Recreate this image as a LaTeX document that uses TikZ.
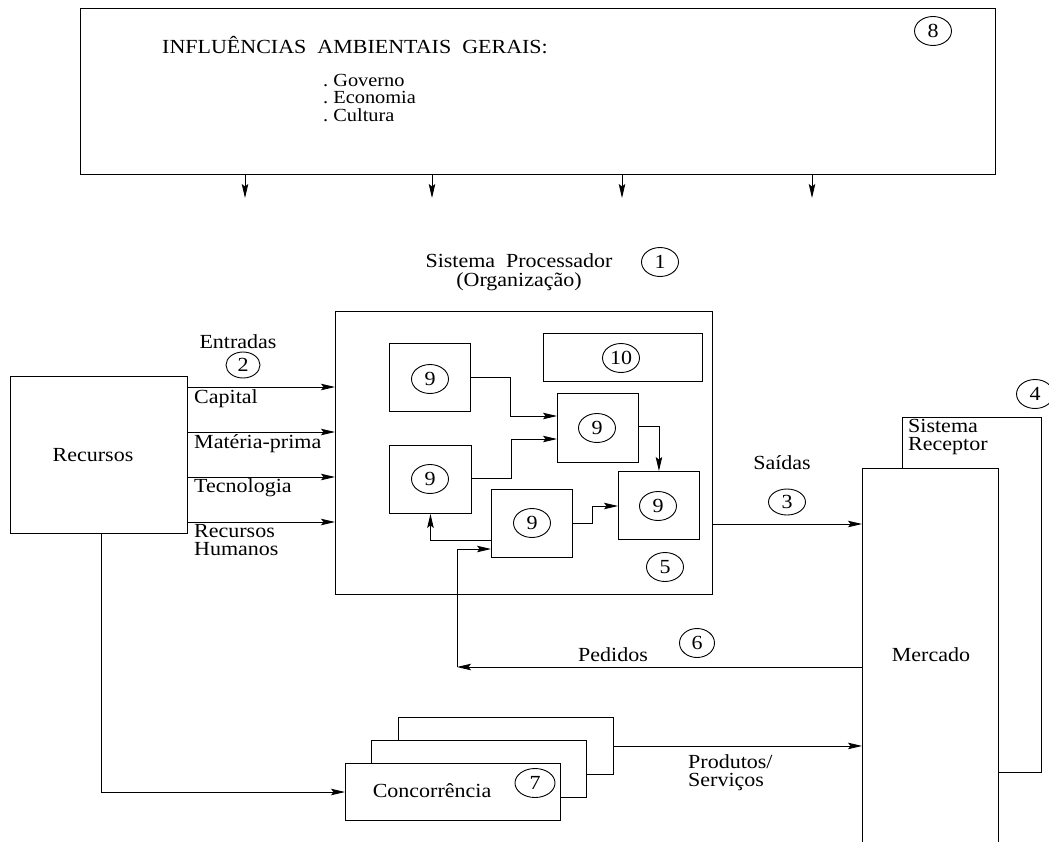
\documentclass[tikz,border=0pt]{standalone}
\usepackage{fontspec}
\setmainfont{Liberation Serif}[FakeStretch=1.1]
\usetikzlibrary{shapes.geometric,arrows.meta}
\begin{document}
\begin{tikzpicture}[x=1pt,y=-1pt,
  every node/.style={font=\fontsize{20}{18.5}\selectfont},
  box/.style={draw, fill=white, line width=0.9pt, inner sep=0pt, anchor=north west},
  num/.style={draw, ellipse, line width=0.9pt, minimum width=37pt, minimum height=29pt, inner sep=0pt},
  lbl/.style={inner sep=0pt, align=left},
  item/.style={inner sep=0pt, anchor=west, font=\fontsize{18.5}{18}\selectfont},
  flow/.style={line width=0.9pt, -{Stealth[length=14pt,width=6.5pt,inset=2.5pt]}},
  plain/.style={line width=0.9pt}]

\useasboundingbox (0,0) rectangle (1049,841);

% ---- general environment ----
\node[box, minimum width=915pt, minimum height=166pt] (infl) at (80,8) {};
\node[lbl, anchor=west] (infltitle) at (162,45) {INFLUÊNCIAS\ \ AMBIENTAIS\ \ GERAIS:};
\node[item] (gov) at (323,81) {.\ Governo};
\node[item] (eco) at (323,98) {.\ Economia};
\node[item] (cul) at (323,115) {.\ Cultura};
\node[num] (n8) at (933,31) {8};
\coordinate (t1) at (245,198);
\coordinate (t2) at (432,198);
\coordinate (t3) at (622,198);
\coordinate (t4) at (812,198);
\foreach \t in {t1,t2,t3,t4}
  \draw[flow] (infl.south -| \t) -- (\t);

% ---- processing system ----
\node[lbl, align=center] (proctitle) at (519,272) {Sistema\ \ Processador\\(Organização)};
\node[num] (n1) at (660,262) {1};
\node[box, minimum width=377pt, minimum height=283pt] (proc) at (335,311) {};

\node[box, minimum width=81pt, minimum height=68pt] (A) at (389,343) {};
\node[box, minimum width=82pt, minimum height=68pt] (B) at (389,445) {};
\node[box, minimum width=81pt, minimum height=69pt] (C) at (557,393) {};
\node[box, minimum width=81pt, minimum height=68pt] (D) at (491,489) {};
\node[box, minimum width=81pt, minimum height=68pt] (E) at (618,471) {};
\node[box, minimum width=159pt, minimum height=48pt] (ten) at (543,333) {};
\node[num] (nA) at (430,379) {9};
\node[num] (nB) at (430,479) {9};
\node[num] (nC) at (597,428) {9};
\node[num] (nD) at (532,523) {9};
\node[num] (nE) at (658,506) {9};
\node[num] (n10) at (621,358) {10};
\node[num] (n5) at (665,567) {5};

\draw[flow] (A.east |- 0,377) -- (510,377) -- (510,416) -- (C.west |- 0,416);
\draw[flow] (B.east |- 0,478) -- (511,478) -- (511,439) -- (C.west |- 0,439);
\draw[flow] (C.east |- 0,426) -- (E.north |- 0,426) -- (E.north);
\draw[flow] (D.east |- 0,523) -- (592,523) -- (592,506) -- (E.west |- 0,506);
\draw[flow] (D.west |- 0,540) -- (B.south |- 0,540) -- (B.south);

% ---- resources and inputs ----
\node[box, minimum width=177pt, minimum height=157pt] (rec) at (10,376) {};
\node[lbl] (rectxt) at (93,455) {Recursos};
\node[lbl] (entradas) at (238,342) {Entradas};
\node[num, minimum width=34pt, minimum height=26pt] (n2) at (243,365) {2};
\node[lbl, anchor=west] (cap) at (194,399) {Capital};
\node[lbl, anchor=west] (mat) at (194,444) {Matéria-prima};
\node[lbl, anchor=west] (tec) at (194,488) {Tecnologia};
\node[lbl, anchor=north west] (rh) at (194,524) {Recursos\\Humanos};
\foreach \y in {387,432,477,522}
  \draw[flow] (rec.east |- 0,\y) -- (proc.west |- 0,\y);

% ---- receiving system ----
\node[box, minimum width=139pt, minimum height=355pt] (recep) at (902,417) {};
\node[lbl, anchor=north west] (receptxt) at (908,419) {Sistema\\Receptor};
\node[num] (n4) at (1035,394) {4};
\node[box, minimum width=136pt, minimum height=378pt] (merc) at (862,468) {};
\node[lbl] (merctxt) at (931,655) {Mercado};

\node[lbl] (saidas) at (782,463) {Saídas};
\node[num, minimum height=26pt] (n3) at (787,502) {3};
\draw[flow] (proc.east |- 0,524) -- (merc.west |- 0,524);

% ---- orders feedback ----
\coordinate (pc) at (457,667);
\draw[flow] (merc.west |- pc) -- (pc);
\draw[flow] (pc) -- (457,549) -- (D.west |- 0,549);
\node[lbl] (pedidos) at (613,655) {Pedidos};
\node[num, minimum width=35pt] (n6) at (697,643) {6};

% ---- competition ----
\node[box, minimum width=215pt, minimum height=57pt] (conc3) at (398,717) {};
\node[box, minimum width=215pt, minimum height=57pt] (conc2) at (371,740) {};
\node[box, minimum width=215pt, minimum height=57pt] (conc1) at (345,763) {};
\node[lbl] (conctxt) at (432,791) {Concorrência};
\node[num, minimum width=40pt] (n7) at (535,783) {7};

\coordinate (rc) at (101,792);
\draw[flow] (rec.south -| rc) -- (rc) -- (conc1.west |- rc);

\draw[flow] (conc3.east) -- (merc.west |- conc3.east);
\node[lbl, anchor=north west] (prod) at (688,754) {Produtos/\\Serviços};

\end{tikzpicture}
\end{document}
